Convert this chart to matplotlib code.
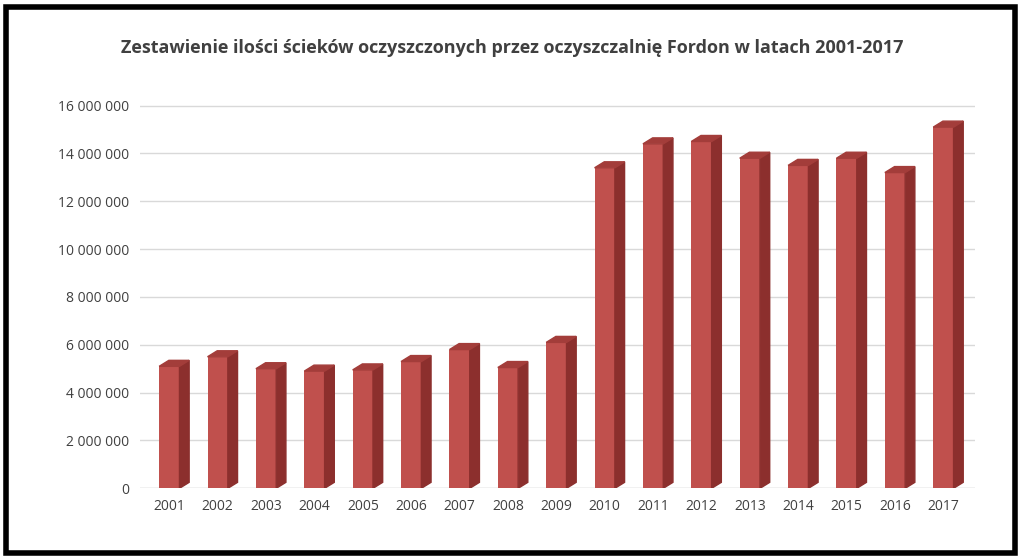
import matplotlib
matplotlib.use("Agg")
import matplotlib.pyplot as plt
from matplotlib.patches import Polygon, Rectangle

plt.rcParams.update({"font.family": ["Open Sans", "DejaVu Sans"], "font.size": 10})

years = [str(y) for y in range(2001, 2018)]
values = [5.1e6, 5.5e6, 5.0e6, 4.9e6, 4.95e6, 5.3e6, 5.8e6, 5.05e6, 6.1e6,
          13.4e6, 14.4e6, 14.5e6, 13.8e6, 13.5e6, 13.8e6, 13.2e6, 15.1e6]
FRONT = "#c0504d"
SIDE = "#8c2f2d"
TOP = "#a33d3a"

fig = plt.figure(figsize=(10.24, 5.6), dpi=100)
fig.patches.append(Rectangle((0.006, 0.012), 0.985, 0.975, transform=fig.transFigure,
                             fill=False, edgecolor="black", linewidth=4))
ax = fig.add_axes([0.137, 0.128, 0.815, 0.692])

w = 0.42
dx, dy = 0.2, 0.25e6
x = range(len(years))
ax.bar(x, values, w, color=FRONT, zorder=3)
for xi, v in zip(x, values):
    l, r = xi - w / 2, xi + w / 2
    ax.add_patch(Polygon([(r, 0), (r + dx, dy), (r + dx, v + dy), (r, v)],
                         closed=True, color=SIDE, zorder=3))
    ax.add_patch(Polygon([(l, v), (r, v), (r + dx, v + dy), (l + dx, v + dy)],
                         closed=True, color=TOP, zorder=3))

ax.set_xlim(-0.6, len(years) - 0.35)
ax.set_ylim(0, 16.2e6)
ticks = list(range(0, 16000001, 2000000))
ax.set_yticks(ticks)
ax.set_yticklabels([f"{t:,}".replace(",", " ") for t in ticks], color="#404040")
ax.set_xticks(list(x))
ax.set_xticklabels(years, color="#404040")
ax.grid(axis="y", color="#d9d9d9", linewidth=1, zorder=0)
ax.tick_params(length=0, pad=8)
for s in ax.spines.values():
    s.set_visible(False)
ax.axhline(0, color="#d9d9d9", linewidth=1, zorder=1)

fig.text(0.5, 0.905, "Zestawienie ilości ścieków oczyszczonych przez oczyszczalnię Fordon w latach 2001-2017",
         ha="center", fontsize=13, fontweight="bold", color="#404040")
fig.savefig("out.png", dpi=100)
